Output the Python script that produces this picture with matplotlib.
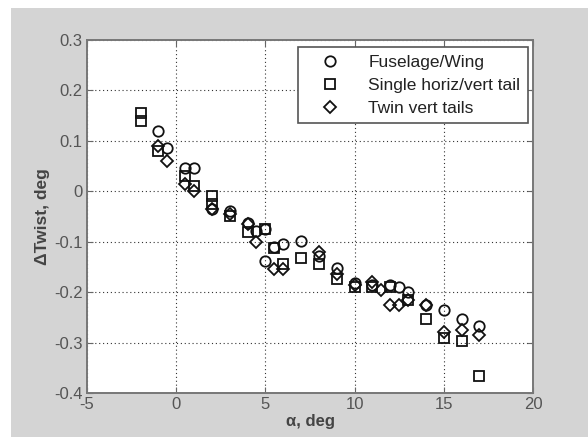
import matplotlib
matplotlib.use("Agg")
import matplotlib.pyplot as plt
from matplotlib.patches import Rectangle

# Fuselage/Wing (circles)
fw_alpha = [-1, -0.5, 0.5, 1, 2, 3, 4, 4.5, 5, 5, 5.5, 6, 7, 8, 9, 10, 11, 12, 12.5, 13, 14, 15, 16, 17]
fw_twist = [0.12, 0.085, 0.046, 0.046, -0.036, -0.04, -0.062, -0.078, -0.074, -0.138, -0.11, -0.105, -0.099, -0.128, -0.153, -0.182, -0.185, -0.185, -0.19, -0.2, -0.225, -0.235, -0.253, -0.268]

# Single horiz/vert tail (squares)
sh_alpha = [-2, -2, -1, 0.5, 1, 2, 2, 3, 4, 5, 5.5, 6, 7, 8, 9, 10, 11, 12, 13, 14, 15, 16, 17]
sh_twist = [0.155, 0.14, 0.08, 0.03, 0.01, -0.01, -0.025, -0.05, -0.08, -0.074, -0.112, -0.145, -0.132, -0.145, -0.174, -0.19, -0.19, -0.19, -0.215, -0.253, -0.29, -0.297, -0.366]

# Twin vert tails (diamonds)
tv_alpha = [-1, -0.5, 0.5, 1, 2, 3, 4, 4.5, 5.5, 6, 8, 9, 10, 11, 11.5, 12, 12.5, 13, 14, 15, 16, 17]
tv_twist = [0.09, 0.06, 0.015, 0.0, -0.035, -0.045, -0.065, -0.1, -0.155, -0.155, -0.12, -0.165, -0.185, -0.18, -0.195, -0.225, -0.225, -0.215, -0.225, -0.28, -0.275, -0.285]

xticks = [-5, 0, 5, 10, 15, 20]
yticks = [-0.4, -0.3, -0.2, -0.1, 0, 0.1, 0.2, 0.3]
ytick_labels = ["-0.4", "-0.3", "-0.2", "-0.1", "0", "0.1", "0.2", "0.3"]

plt.rcParams['font.family'] = ['Liberation Sans', 'DejaVu Sans']
plt.rcParams['axes.unicode_minus'] = False

fig = plt.figure(figsize=(5.88, 4.37), dpi=100, facecolor='white')
fig.patches.append(Rectangle((11/588, 0), 1, (437-8)/437, transform=fig.transFigure,
                             facecolor='#d4d4d4', edgecolor='none', zorder=-10))

ax = fig.add_axes([87/588, (437-393)/437, (533-87)/588, (393-40)/437])
ax.set_zorder(5)
ax.set_facecolor('white')

mk = dict(linestyle='none', markerfacecolor='none', markeredgecolor='#111111',
          markeredgewidth=1.3, markersize=7.5)
ax.plot(fw_alpha, fw_twist, marker='o', label='Fuselage/Wing', **mk)
ax.plot(sh_alpha, sh_twist, marker='s', label='Single horiz/vert tail', **mk)
ax.plot(tv_alpha, tv_twist, marker='D', label='Twin vert tails',
        **{**mk, 'markersize': 6.5})

ax.set_xlim(-5, 20)
ax.set_ylim(-0.4, 0.3)
ax.set_xticks(xticks)
ax.set_yticks(yticks)
ax.set_yticklabels(ytick_labels)
ax.grid(True, color='#333333', linestyle=(0, (1, 2.5)), linewidth=0.8)
ax.tick_params(direction='in', top=True, right=True, length=4, labelsize=12,
               labelcolor='#555555', color='#666666', pad=3)
for s in ax.spines.values():
    s.set_color('#777777')
    s.set_linewidth(1.4)

ax.set_xlabel('α, deg', fontsize=12, fontweight='bold', color='#444444', labelpad=1)
ax.set_ylabel('ΔTwist, deg', fontsize=12.5, fontweight='bold', color='#444444', labelpad=3)

leg = ax.legend(loc='upper right', fontsize=12.5, frameon=True, fancybox=False,
                edgecolor='#555555', borderpad=0.45, handlelength=2.8, handletextpad=0.8,
                labelspacing=0.44, bbox_to_anchor=(0.989, 0.98), borderaxespad=0,
                framealpha=1)
leg.get_frame().set_linewidth(1.2)
for t in leg.get_texts():
    t.set_color('#222222')

fig.savefig('out.png', dpi=100, facecolor=fig.get_facecolor())
